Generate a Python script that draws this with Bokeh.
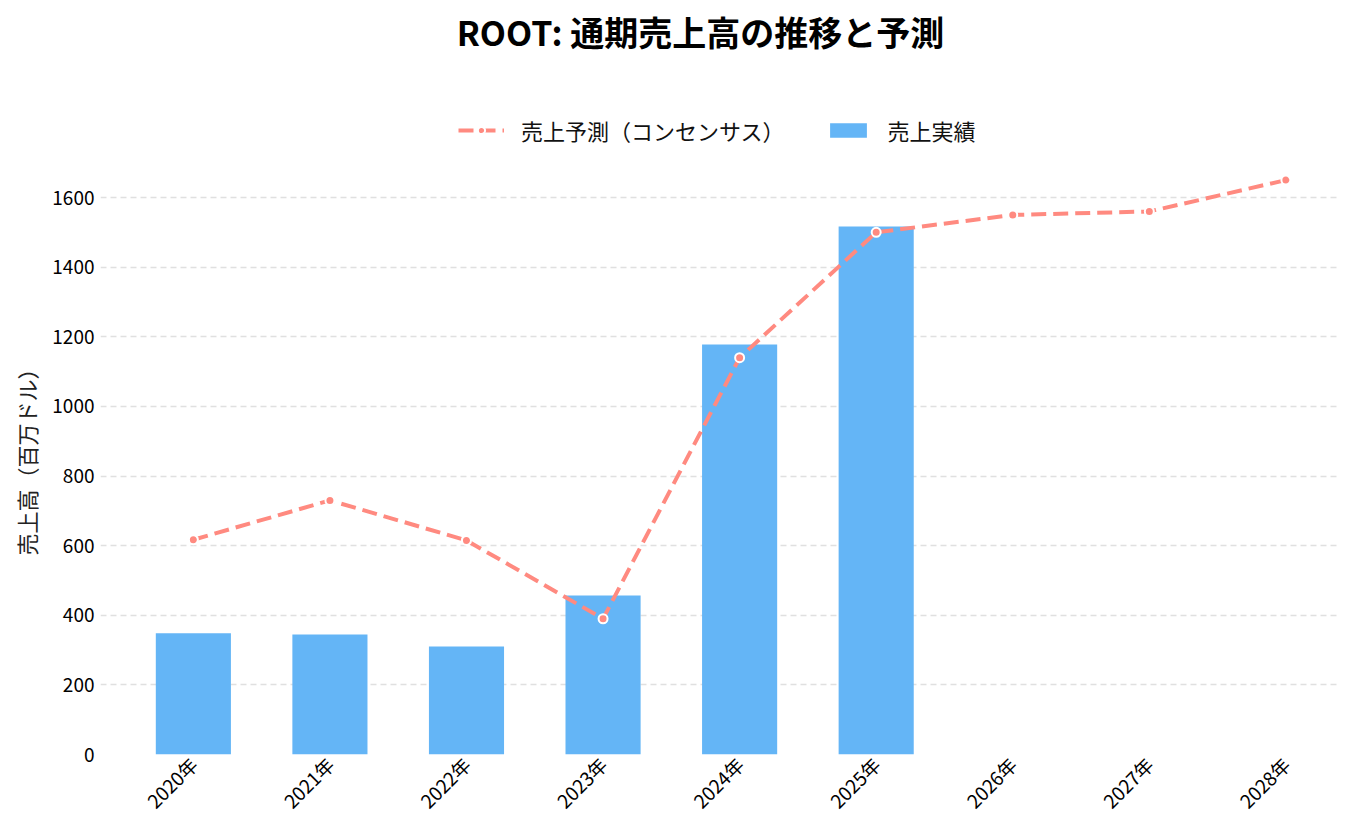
# ROOT revenue: actual bars + consensus forecast line

from bokeh.plotting import figure
from bokeh.models import (Legend, LegendItem, Title, Label, Range1d,
                          FixedTicker, ColumnDataSource)
from bokeh.embed import file_html
from bokeh.resources import INLINE

# ---- data (million USD)
years = ["2020年", "2021年", "2022年", "2023年", "2024年",
         "2025年", "2026年", "2027年", "2028年"]
actual = [348, 345, 310, 457, 1178, 1517]
forecast = [617, 730, 615, 390, 1140, 1500, 1550, 1560, 1650]
y_ticks = [0, 200, 400, 600, 800, 1000, 1200, 1400, 1600]

JP = "Noto Sans CJK JP"
BAR = "#64B5F6"
LINE = "#FF8A80"

x_all = list(range(len(years)))
bars = ColumnDataSource(dict(x=x_all[:len(actual)], top=actual))
fc = ColumnDataSource(dict(x=x_all, y=forecast))

# the frame runs up to the top so the title and legend can live inside it;
# grid lines only go to 1600
p = figure(width=1348, height=830, title=None,
           x_range=Range1d(-0.68, 8.4), y_range=Range1d(0, 2166),
           output_backend="svg", toolbar_location=None,
           min_border_left=100, min_border_right=8,
           min_border_top=0, min_border_bottom=76)
p.outline_line_color = None
p.background_fill_color = "white"
p.border_fill_color = "white"

# bars
r_bar = p.vbar(x="x", top="top", width=0.55, source=bars,
               fill_color=BAR, line_color=None)

# forecast line + points
r_line = p.line("x", "y", source=fc, line_color=LINE, line_width=4,
                line_dash="15 7")
r_pts = p.scatter("x", "y", source=fc, size=9, fill_color=LINE,
                  line_color="white", line_width=2)

# axes
p.xaxis.ticker = FixedTicker(ticks=x_all)
p.xaxis.major_label_overrides = {i: y for i, y in enumerate(years)}
p.xaxis.major_label_orientation = 0.785
p.yaxis.ticker = FixedTicker(ticks=y_ticks)
for ax in (p.xaxis, p.yaxis):
    ax.axis_line_color = None
    ax.major_tick_line_color = None
    ax.minor_tick_line_color = None
    ax.major_tick_out = 0
    ax.major_tick_in = 0
    ax.major_label_standoff = 6
    ax.major_label_text_font = JP
    ax.major_label_text_font_size = "19px"
    ax.major_label_text_color = "black"

p.xgrid.grid_line_color = None
p.ygrid.grid_line_color = "#e0e0e0"
p.ygrid.grid_line_dash = "6 4"
p.ygrid.grid_line_width = 1.5

# y label as a side title so it can sit where the reference has it
ylab = Title(text="売上高（百万ドル）", align="left", offset=199,
             text_font=JP, text_font_size="22px", text_font_style="normal",
             text_color="#222222", standoff=15)
p.add_layout(ylab, "left")

# legend near the top of the frame (screen units from the frame's lower left)
legend = Legend(items=[
    LegendItem(label="売上予測（コンセンサス）", renderers=[r_line, r_pts]),
    LegendItem(label="売上実績", renderers=[r_bar]),
], orientation="horizontal", location=(358, 608))
legend.label_text_font = JP
legend.label_text_font_size = "22px"
legend.label_text_color = "#111111"
legend.glyph_width = 46
legend.glyph_height = 18
legend.spacing = 40
legend.label_standoff = 17
legend.border_line_color = None
legend.background_fill_alpha = 0
legend.padding = 0
legend.margin = 0
p.add_layout(legend)

# chart title
title = Label(x=600, y=723, x_units="screen", y_units="screen",
              text="ROOT: 通期売上高の推移と予測", text_align="center",
              text_baseline="middle", text_font=JP, text_font_size="34px",
              text_font_style="bold", text_color="black")
p.add_layout(title)

open("out.html", "w").write(file_html(p, INLINE))
